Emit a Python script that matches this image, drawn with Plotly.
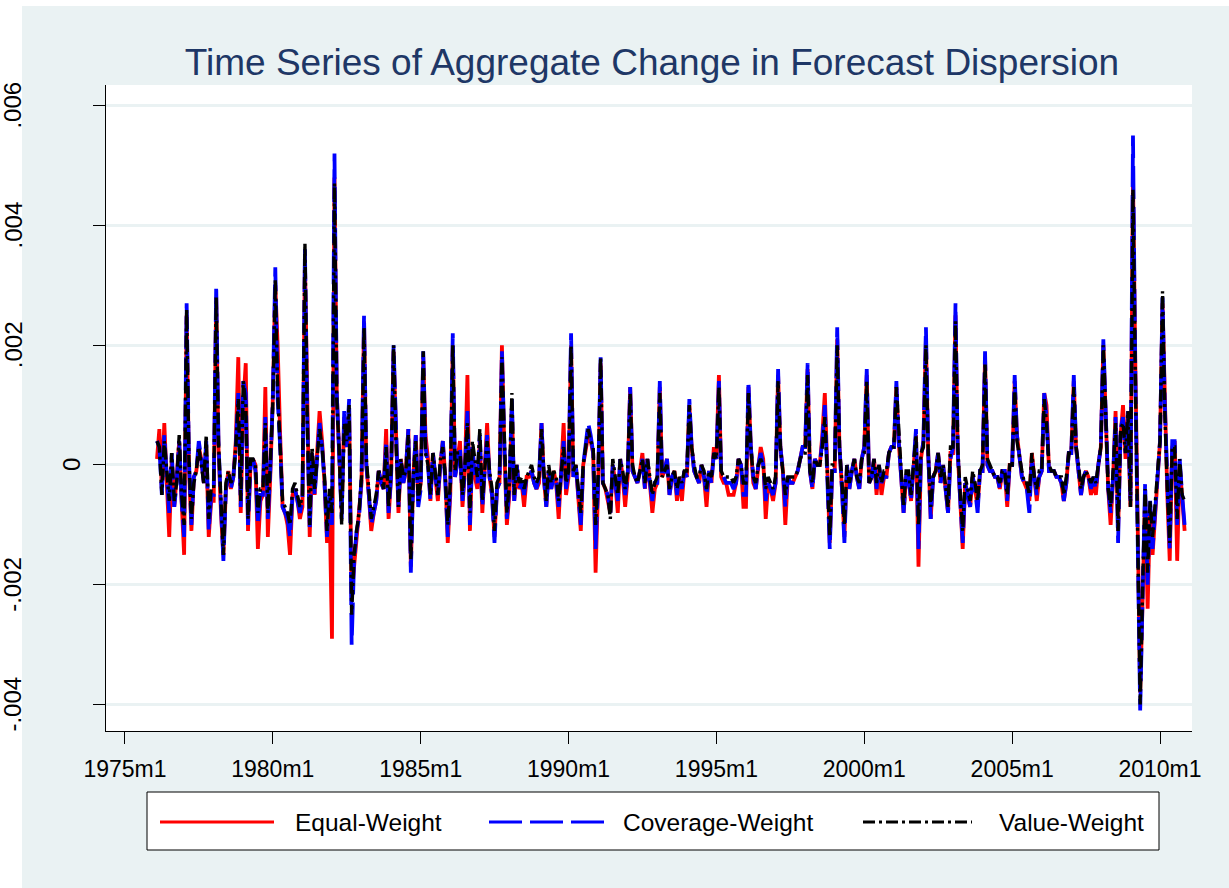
import pandas as pd
import plotly.graph_objects as go

# ---------------- data (monthly, 1976m2 .. 2010m11), units of 0.0001 ----------------
START_MONTH = "1976-02-01"
UNIT = 1e-4

equal_weight = [
    1, 6, -4, 7, -3, -12, 1, -7, -2, 4, -6,                 # 1976 (Feb-Dec)
    -15, 25, 0, -11, -2, -1, 3, 1, -3, 3, -12, -6,          # 1977
    -6, 28, 3, -8, -15, -4, -1, -4, -2, 4, 18, -8,          # 1978
    10, 17, -11, 0, 1, 0, -14, -6, -5, 13, -12, -2,         # 1979
    11, 30, 20, 5, -7, -8, -10, -15, -5, -4, -6, -9,        # 1980
    -7, 34, 8, -12, 2, -5, 2, 9, 4, -3, -13, -6,            # 1981
    -29, 48, 12, 3, -8, 8, 3, 9, -22, -17, -12, -9,         # 1982
    -3, 24, 0, -5, -11, -8, -6, -1, -3, -4, 6, -9,          # 1983
    -2, 19, 5, -8, 1, -3, -1, 6, -17, -2, 5, -6,            # 1984
    -3, 18, 5, 1, -6, 2, -2, -6, 0, 4, -2, -13,             # 1985
    -5, 20, -2, 1, 4, -7, -1, 15, -11, 3, -2, -4,           # 1986
    4, -8, -2, 7, -2, -5, -12, -4, -3, 20, 2, -10,          # 1987
    -5, 10, -6, 0, -4, -3, -7, -2, -2, -1, -3, -4,          # 1988
    -3, 7, -2, -7, -1, -4, -1, -3, -9, -2, 7, -5,           # 1989
    -2, 20, -2, 0, -5, -11, 0, 3, 5, 4, 2, -18,             # 1990
    -4, 17, -3, -4, -6, -8, 0, -3, -8, 1, -2, -7,           # 1991
    -2, 13, -1, -2, -3, -1, 2, -4, 1, -3, -8, -4,           # 1992
    -3, 13, -2, -1, 1, -5, -2, -1, -6, -2, -6, -1,          # 1993
    -2, 10, 3, -1, -2, -3, 0, -2, -7, -1, -3, 3,            # 1994
    1, 15, -2, -3, -3, -5, -5, -5, -3, 1, 0, -7,            # 1995
    -7, 13, 3, -3, -4, 0, 3, 1, -9, -3, -4, -6,             # 1996
    -3, 15, 3, -1, -10, -2, -3, -3, -2, -1, 1, 3,           # 1997
    3, 16, -1, -4, 1, 0, 0, 5, 12, -2, -13, -1,             # 1998
    -1, 21, 3, -4, -12, 0, -4, -1, 1, -2, -4, 1,            # 1999
    3, 15, -3, -2, 1, -5, 0, -5, -2, -2, 2, 3,              # 2000
    3, 13, 4, -2, -8, -2, -2, -6, 0, 5, -17, 1,             # 2001
    4, 21, 2, -9, -2, -1, 2, -3, 0, -4, -8, 2,              # 2002
    2, 25, 2, -6, -14, -3, -5, -7, -2, -4, -7, -1,          # 2003
    -1, 18, 0, -1, -1, -2, -2, -4, -1, -1, -7, 0,           # 2004
    0, 14, 5, 1, -2, -3, -4, -6, 2, -2, -6, -2,             # 2005
    -1, 12, 10, -1, -1, -1, -2, -2, -3, -6, -3, 2,          # 2006
    2, 14, 3, -1, -5, -2, -1, -2, -5, -3, -5, 0,            # 2007
    3, 20, 10, -4, -10, -2, 9, -11, 5, 10, 1, 8,            # 2008
    -7, 48, 18, -12, -38, -22, -5, -24, -7, -15, -8, -2,    # 2009
    4, 27, 10, -5, -16, 3, 4, -16, 0, -5, -11,              # 2010 (Jan-Nov)
]

coverage_weight = [
    4, 3, -5, 5, -2, -8, 2, -7, -3, 4, -6,                  # 1976
    -12, 27, 1, -10, -2, -1, 4, 1, -3, 4, -11, -5,          # 1977
    -5, 30, 4, -7, -16, -4, -2, -4, -2, 3, 12, -7,          # 1978
    14, 12, -10, 0, 1, -1, -10, -5, -5, 8, -9, -1,          # 1979
    11, 33, 11, 3, -7, -8, -9, -12, -5, -4, -6, -8,         # 1980
    -6, 36, 8, -11, 2, -5, 1, 7, 3, -3, -12, -5,            # 1981
    -10, 52, 12, 3, -9, 9, 3, 11, -30, -16, -11, -9,        # 1982
    -2, 25, 0, -5, -10, -8, -6, -1, -3, -4, 4, -8,          # 1983
    -2, 20, 5, -7, 1, -3, -1, 6, -18, -2, 5, -7,            # 1984
    -4, 19, 3, 0, -6, 2, -2, -5, 0, 4, -3, -12,             # 1985
    -4, 22, -2, 1, 3, -6, -1, 9, -10, 3, -2, -3,            # 1986
    5, -7, -2, 5, -2, -5, -13, -4, -3, 19, 3, -9,           # 1987
    -4, 11, -6, 0, -4, -3, -5, -2, -2, -1, -3, -4,          # 1988
    -2, 7, -2, -7, -1, -4, -2, -3, -7, -1, 4, -4,           # 1989
    -1, 22, -2, 0, -5, -10, 0, 4, 7, 5, 2, -14,             # 1990
    -3, 18, -3, -4, -5, -8, 0, -3, -6, 1, -2, -5,           # 1991
    -2, 13, -1, -2, -3, -1, 1, -4, 1, -3, -6, -3,           # 1992
    -3, 14, -2, -1, 1, -5, -2, -1, -5, -2, -4, -1,          # 1993
    -2, 11, 3, -1, -2, -3, 0, -2, -5, -1, -3, 2,            # 1994
    1, 14, -2, -2, -3, -3, -3, -4, -3, 1, 0, -5,            # 1995
    -5, 14, 3, -2, -4, 0, 2, 0, -6, -3, -4, -5,             # 1996
    -3, 16, 3, -1, -7, -2, -3, -3, -2, -1, 1, 3,            # 1997
    3, 17, -1, -4, 1, 0, 0, 4, 10, -2, -14, -1,             # 1998
    -1, 23, 3, -4, -13, 0, -4, -1, 1, -2, -4, 1,            # 1999
    3, 16, -3, -2, 1, -4, 0, -3, -2, -2, 2, 3,              # 2000
    3, 14, 4, -2, -8, -2, -2, -6, 0, 6, -14, 1,             # 2001
    4, 23, 2, -9, -2, -1, 2, -3, 0, -4, -8, 1,              # 2002
    3, 27, 2, -6, -13, -3, -5, -7, -2, -4, -8, -1,          # 2003
    -1, 19, 0, -1, -1, -2, -2, -4, -1, -1, -6, 0,           # 2004
    0, 15, 5, 1, -2, -3, -4, -8, 1, -2, -5, -2,             # 2005
    -1, 12, 8, -1, -1, -1, -2, -2, -3, -6, -3, 2,           # 2006
    2, 15, 3, -1, -5, -2, -1, -2, -4, -2, -4, 0,            # 2007
    3, 21, 9, -4, -8, -2, 8, -13, 6, 8, 2, 9,               # 2008
    -6, 55, 16, -12, -41, -21, -3, -20, -6, -14, -7, -2,    # 2009
    4, 28, 10, -5, -14, 4, 4, -10, 1, -5, -10,              # 2010
]

value_weight = [
    4, 3, -5, 4, -1, -6, 2, -6, -3, 5, -5,                  # 1976
    -10, 26, 1, -9, -3, -1, 3, 0, -3, 5, -9, -4,            # 1977
    -4, 28, 4, -6, -15, -3, -1, -3, -2, 3, 11, -6,          # 1978
    14, 10, -9, 1, 1, 0, -8, -4, -4, 7, -8, 0,              # 1979
    10, 31, 12, 3, -6, -7, -8, -10, -4, -3, -5, -7,         # 1980
    -5, 37, 8, -10, 3, -4, 1, 6, 3, -2, -11, -4,            # 1981
    -8, 47, 11, 2, -10, 7, 4, 10, -25, -15, -11, -8,        # 1982
    -2, 23, 1, -4, -9, -7, -5, -1, -2, -4, 3, -7,           # 1983
    -1, 20, 4, -7, 1, -2, -1, 5, -16, -2, 4, -6,            # 1984
    -3, 19, 2, 0, -5, 2, -2, -5, 1, 3, -2, -10,             # 1985
    -3, 20, -1, 2, 2, -5, 0, 7, -8, 4, 1, -2,               # 1986
    6, -6, -1, 4, -1, -4, -11, -3, -2, 18, 4, -8,           # 1987
    -3, 12, -5, 0, -3, -2, -4, -2, -1, 0, -2, -3,           # 1988
    -2, 6, -1, -6, 0, -3, -1, -2, -6, -1, 3, -3,            # 1989
    -1, 20, -1, 0, -4, -8, 0, 3, 6, 4, 3, -10,              # 1990
    -2, 18, -3, -4, -5, -9, 1, -2, -5, 1, -1, -4,           # 1991
    -1, 12, 0, -2, -3, -1, 1, -3, 1, -2, -5, -3,            # 1992
    -2, 12, -2, -1, 0, -4, -2, -1, -4, -2, -3, -1,          # 1993
    -1, 10, 3, 0, -2, -2, 0, -1, -4, -1, -2, 2,             # 1994
    1, 13, -1, -2, -2, -2, -2, -3, -2, 1, 0, -3,            # 1995
    -3, 12, 3, -2, -3, 0, 1, 0, -4, -2, -3, -4,             # 1996
    -2, 14, 3, -1, -5, -2, -2, -2, -2, -1, 1, 2,            # 1997
    2, 15, -1, -3, 1, 0, 0, 3, 8, -1, -12, 0,               # 1998
    0, 20, 3, -3, -10, 0, -3, -1, 1, -2, -3, 1,             # 1999
    2, 14, -3, -2, 1, -3, 0, -3, -1, -1, 2, 3,              # 2000
    3, 13, 5, -1, -7, -1, -1, -5, 0, 5, -10, 2,             # 2001
    3, 20, 2, -7, -2, -1, 2, -2, 0, -3, -7, 3,              # 2002
    3, 24, 3, -5, -11, -2, -4, -6, -1, -3, -6, -1,          # 2003
    0, 17, 1, 0, -1, -2, -2, -3, -1, -1, -5, 0,             # 2004
    0, 13, 4, 1, -1, -3, -3, -5, 2, -2, -4, -1,             # 2005
    -1, 11, 7, 0, -1, -1, -2, -2, -2, -5, -2, 2,            # 2006
    2, 13, 3, 0, -4, -2, -1, -2, -3, -2, -3, 0,             # 2007
    3, 20, 8, -4, -7, -1, 7, -11, 6, 7, 2, 9,               # 2008
    -7, 46, 16, -10, -40, -20, -4, -18, -6, -12, -6, -1,    # 2009
    4, 29, 9, -4, -13, 3, 3, -9, 1, -5, -6,                 # 2010
]

series_names = ["Equal-Weight", "Coverage-Weight", "Value-Weight"]
x_tick_dates = ["1975-01-01", "1980-01-01", "1985-01-01", "1990-01-01",
                "1995-01-01", "2000-01-01", "2005-01-01", "2010-01-01"]
x_tick_text = ["1975m1", "1980m1", "1985m1", "1990m1",
               "1995m1", "2000m1", "2005m1", "2010m1"]
y_tick_vals = [-0.004, -0.002, 0, 0.002, 0.004, 0.006]
y_tick_text = ["-.004", "-.002", "0", ".002", ".004", ".006"]

# ---------------- figure ----------------
W, H = 1229, 888
L, R, T, B = 106, 1192, 85, 731          # plot-area pixel box
PW, PH = R - L, B - T

def px_x(px):
    return (px - L) / PW

def px_y(py):
    return (B - py) / PH

dates = pd.date_range(START_MONTH, periods=len(equal_weight), freq="MS")

RED, BLUE, BLACK = "#FF0000", "#0000FF", "#000000"
BLUE_DASH = "33px,8px"
BLACK_DASH = "12px,4px,3px,4px"
FONT = "Liberation Sans, Arial, Helvetica, sans-serif"
BG = "#EAF2F3"

fig = go.Figure()
styles = [
    (equal_weight, RED, "solid", 3.8),
    (coverage_weight, BLUE, BLUE_DASH, 3.8),
    (value_weight, BLACK, BLACK_DASH, 3.4),
]
for name, (vals, col, dash, w) in zip(series_names, styles):
    fig.add_trace(go.Scatter(
        x=dates, y=[v * UNIT for v in vals], mode="lines", name=name,
        line=dict(color=col, width=w, dash=dash), showlegend=False,
    ))

shapes = [
    # white outer margin strips of the original export
    dict(type="rect", xref="paper", yref="paper", x0=px_x(0), x1=px_x(22),
         y0=px_y(H), y1=px_y(0), fillcolor="white", line=dict(width=0), layer="below"),
    dict(type="rect", xref="paper", yref="paper", x0=px_x(0), x1=px_x(W),
         y0=px_y(6), y1=px_y(0), fillcolor="white", line=dict(width=0), layer="below"),
    # legend frame
    dict(type="rect", xref="paper", yref="paper", x0=px_x(147), x1=px_x(1159),
         y0=px_y(850), y1=px_y(792), fillcolor="white", line=dict(color="black", width=1)),
]
legend_y = px_y(822)
legend_items = [
    (160, 274, 293, RED, "solid"),
    (489, 604, 621, BLUE, BLUE_DASH),
    (863, 972, 997, BLACK, BLACK_DASH),
]
annotations = []
for name, (lx0, lx1, tx, col, dash) in zip(series_names, legend_items):
    shapes.append(dict(type="line", xref="paper", yref="paper", x0=px_x(lx0), x1=px_x(lx1),
                       y0=legend_y, y1=legend_y, line=dict(color=col, width=3, dash=dash)))
    annotations.append(dict(text=name, xref="paper", yref="paper", x=px_x(tx), y=legend_y,
                            xanchor="left", yanchor="middle", showarrow=False,
                            font=dict(size=24.5, color="black", family=FONT)))

# rotated y tick labels
for v, t in zip(y_tick_vals, y_tick_text):
    xc = 72 if t == "0" else 13
    annotations.append(dict(text=t, xref="paper", yref="y", x=px_x(xc), y=v,
                            xanchor="center", yanchor="middle", showarrow=False,
                            textangle=-90, font=dict(size=24, color="black", family=FONT)))

fig.update_layout(
    width=W, height=H, autosize=False,
    margin=dict(l=L, r=W - R, t=T, b=H - B, pad=0),
    paper_bgcolor=BG, plot_bgcolor="white",
    font=dict(family=FONT, color="black"),
    title=dict(text="Time Series of Aggregate Change in Forecast Dispersion",
               x=px_x(652), xref="paper", xanchor="center",
               y=1 - 62 / H, yref="container", yanchor="middle",
               font=dict(size=37, color="#1E3766", family=FONT)),
    shapes=shapes, annotations=annotations, showlegend=False,
)
fig.update_xaxes(
    type="date", range=["1974-05-12", "2011-01-31"],
    tickvals=x_tick_dates, ticktext=x_tick_text,
    ticks="outside", ticklen=12, tickwidth=1, tickcolor="black",
    showline=True, linecolor="black", linewidth=1,
    showgrid=False, zeroline=False,
    tickfont=dict(size=23, color="black", family=FONT), ticklabelstandoff=5,
)
fig.update_yaxes(
    range=[-0.004441, 0.006344], tickvals=y_tick_vals, showticklabels=False,
    ticks="outside", ticklen=12, tickwidth=1, tickcolor="black",
    showline=True, linecolor="black", linewidth=1,
    showgrid=True, gridcolor=BG, gridwidth=2.5, zeroline=False,
)

fig.write_html("out.html", config={"displayModeBar": False},
               post_script="document.body.style.margin='0';")
